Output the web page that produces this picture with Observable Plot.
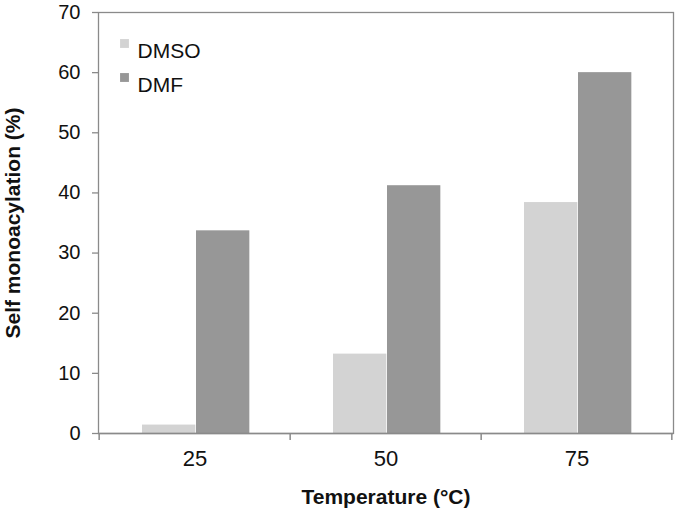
<!DOCTYPE html>
<html>
<head>
<meta charset="utf-8">
<script src="https://cdn.jsdelivr.net/npm/d3@7"></script>
<script src="https://cdn.jsdelivr.net/npm/@observablehq/plot@0.6"></script>
<style>
  html, body { margin: 0; padding: 0; background: #fff; }
  #chart svg { display: block; font-family: "Liberation Sans", Arial, sans-serif; }
</style>
</head>
<body>
<div id="chart"></div>
<script>
// Data
const temperatures = ["25", "50", "75"];
const series = ["DMSO", "DMF"];
const dmsoValues = [1.4, 13.2, 38.4];
const dmfValues = [33.7, 41.2, 60.0];
const yTicks = [0, 10, 20, 30, 40, 50, 60, 70];
const xTitle = "Temperature (°C)";
const yTitle = "Self monoacylation (%)";
const colors = {DMSO: "#d3d3d3", DMF: "#979797"};

const rows = [];
temperatures.forEach((t, i) => {
  rows.push({temp: t, solvent: "DMSO", value: dmsoValues[i]});
  rows.push({temp: t, solvent: "DMF", value: dmfValues[i]});
});

const W = 675, H = 511;
const mL = 98, mR = 2, mT = 12, mB = 78;
const bw = (W - mL - mR) / temperatures.length;
const axisGray = "#8a8a8a";

// bar insets within each temperature band (pixels)
const insets = {
  DMSO: {insetLeft: 43, insetRight: bw - 97},
  DMF: {insetLeft: 97, insetRight: bw - 151}
};

const chart = Plot.plot({
  width: W,
  height: H,
  marginLeft: mL,
  marginRight: mR,
  marginTop: mT,
  marginBottom: mB,
  style: {fontFamily: "'Liberation Sans', Arial, sans-serif", background: "#fff", color: "#111"},
  x: {type: "band", domain: temperatures, padding: 0, axis: null},
  y: {domain: [0, 70], axis: null},
  marks: [
    ...series.map(s => Plot.barY(rows.filter(d => d.solvent === s), {
      x: "temp", y: "value", fill: colors[s], ...insets[s]
    })),
    Plot.frame({stroke: axisGray, strokeWidth: 1.3}),
    Plot.ruleY([0], {stroke: axisGray, strokeWidth: 1.5}),
    // y axis
    Plot.axisY({ticks: yTicks, tickSize: 6, tickPadding: 12, fontSize: 20, stroke: axisGray, strokeWidth: 1.3, fill: "#111", label: null}),
    // x axis labels (centered) and boundary ticks
    Plot.axisX({tickSize: 0, tickPadding: 17, fontSize: 22, fill: "#111", label: null}),
    Plot.ruleX(temperatures, {x: d => d, y1: 0, y2: 0, insetBottom: -7, dx: -bw / 2, stroke: axisGray, strokeWidth: 1.5}),
    Plot.ruleX(temperatures.slice(-1), {x: d => d, y1: 0, y2: 0, insetBottom: -7, dx: bw / 2 - 1, stroke: axisGray, strokeWidth: 1.5}),
    // axis titles
    Plot.text([xTitle], {frameAnchor: "bottom", dy: 70, fontSize: 21, fontWeight: "bold", fill: "#111"}),
    Plot.text([yTitle], {frameAnchor: "left", dx: -85, rotate: -90, textAnchor: "middle", fontSize: 21, fontWeight: "bold", fill: "#111"}),
    // legend inside plot
    ...series.map((s, i) => Plot.dot([s], {frameAnchor: "top-left", dx: 26, dy: 31 + 34 * i, symbol: "square", r: 5, fill: colors[s], stroke: null})),
    ...series.map((s, i) => Plot.text([s], {frameAnchor: "top-left", dx: 39, dy: 31 + 34 * i, textAnchor: "start", fontSize: 21, fill: "#111"}))
  ]
});

document.getElementById("chart").appendChild(chart);
</script>
</body>
</html>
